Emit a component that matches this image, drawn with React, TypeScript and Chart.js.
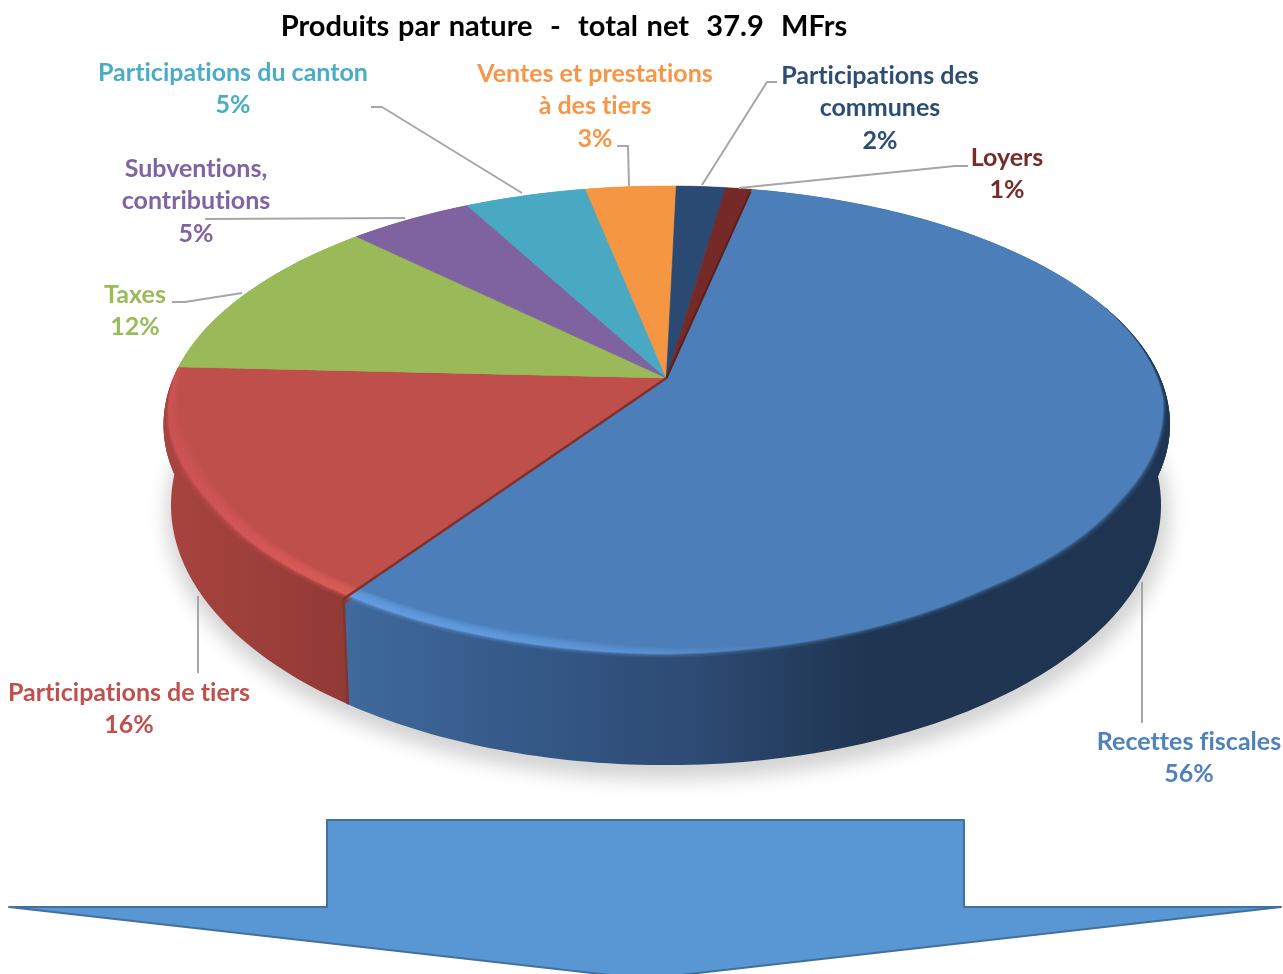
import React, { useEffect, useRef } from "react";
import { Chart, registerables } from "chart.js";

Chart.register(...registerables);

const categories = [
  "Recettes fiscales",
  "Participations de tiers",
  "Taxes",
  "Subventions, contributions",
  "Participations du canton",
  "Ventes et prestations à des tiers",
  "Participations des communes",
  "Loyers",
];
const shares = [56.2, 16.3, 11.6, 4.8, 4.7, 3.5, 1.9, 1.0];
const sliceColors = ["#4c7fba", "#be4f4b", "#9ab958", "#7f62a0", "#49a9c3", "#f49642", "#2a4a73", "#752a28"];
const titleText = "Produits par nature  -  total net  37.9  MFrs";

const labelColors = ["#4f81bd", "#c0504d", "#9bbb59", "#8064a2", "#4bacc6", "#f79646", "#2c4d75", "#772c2a"];
const labelLines = [
  ["Recettes fiscales", "56%"],
  ["Participations de tiers", "16%"],
  ["Taxes", "12%"],
  ["Subventions,", "contributions", "5%"],
  ["Participations du canton", "5%"],
  ["Ventes et prestations", "à des tiers", "3%"],
  ["Participations des", "communes", "2%"],
  ["Loyers", "1%"],
];
const labelAnchors = [
  [1189, [742, 774]],
  [129, [693, 725]],
  [135, [295, 327]],
  [196, [169, 201, 234]],
  [233, [73, 105]],
  [595, [74, 106, 139]],
  [880, [76, 108, 141]],
  [1007, [158, 190]],
] as [number, number[]][];
const leaders = [
  [[1142, 582], [1142, 723]],
  [[198, 596], [198, 673]],
  [[172, 302], [185, 302], [242, 293]],
  [[205, 219], [405, 218]],
  [[371, 107], [382, 107], [522, 193]],
  [[617, 146], [628, 146], [629, 186]],
  [[777, 82], [767, 82], [702, 185]],
  [[968, 166], [955, 166], [739, 188]],
];
const arrowPoints = [
  [327, 820], [964, 820], [964, 907], [1281, 907], [645, 979], [9, 907], [327, 907],
];

const TILT = 0.19;
const topDisc = { cx: 666.5, y0: 378, S: 493, T: 228.5 };
const baseDisc = { cx: 666, y0: 455.6, S: 486, T: 250.7 };
const RAD = Math.PI / 180;
const WALL_SKEW = 0.7 * RAD;

type Disc = typeof topDisc;
const project = (H: Disc, r: number, th: number) => {
  const u = r * Math.sin(th);
  const v = -r * Math.cos(th);
  const w = 1 - TILT * v;
  return [H.cx + (H.S * u) / w, H.y0 + (H.T * v) / w];
};

const wallStops: Record<number, [number, string][]> = {
  0: [[345, "#3f6a9b"], [500, "#365b8b"], [700, "#2d4a72"], [870, "#1f3551"], [1165, "#1e3450"]],
  1: [[165, "#a8443f"], [345, "#923a36"]],
};
const rimLight: Record<number, [number, string, number][]> = {
  0: [[345, "#66a0e6", 0.95], [520, "#66a0e6", 0.85], [760, "#66a0e6", 0.2], [900, "#66a0e6", 0]],
  1: [[165, "#d8585a", 0.5], [230, "#d8585a", 0.85], [345, "#dc5c58", 1]],
};
// how far the wall colour climbs over the top face, by rim angle in degrees
const rimDepthTable = [
  [95, 0], [120, 0.022], [145, 0.03], [165, 0.015], [180, 0.006], [214, 0.014], [240, 0.015], [258, 0.004], [270, 0],
];

const rgba = (hex: string, a: number) => {
  const n = parseInt(hex.slice(1), 16);
  return `rgba(${(n >> 16) & 255},${(n >> 8) & 255},${n & 255},${a})`;
};

function hGradient(ctx: CanvasRenderingContext2D, stops: [number, string, number][]) {
  const x0 = 160;
  const x1 = 1175;
  const g = ctx.createLinearGradient(x0, 0, x1, 0);
  stops.forEach(([x, c, a]) => g.addColorStop((x - x0) / (x1 - x0), rgba(c, a)));
  return g;
}

function band(
  ctx: CanvasRenderingContext2D,
  a0: number,
  a1: number,
  inner: (th: number) => number,
  outer: (th: number) => number = () => 1,
) {
  ctx.beginPath();
  const n = Math.max(2, Math.ceil((a1 - a0) / (0.5 * RAD)));
  for (let i = 0; i <= n; i++) {
    const th = a0 + ((a1 - a0) * i) / n;
    const [x, y] = project(topDisc, outer(th), th);
    i ? ctx.lineTo(x, y) : ctx.moveTo(x, y);
  }
  for (let i = n; i >= 0; i--) {
    const th = a0 + ((a1 - a0) * i) / n;
    const [x, y] = project(topDisc, inner(th), th);
    ctx.lineTo(x, y);
  }
  ctx.closePath();
  ctx.fill();
}

const clamp01 = (x: number) => Math.max(0, Math.min(1, x));

const rimDepth = (th: number) => {
  const deg = th / RAD;
  for (let i = 1; i < rimDepthTable.length; i++) {
    const [a, p] = rimDepthTable[i - 1];
    const [b, q] = rimDepthTable[i];
    if (deg >= a && deg <= b) return p + ((q - p) * (deg - a)) / (b - a);
  }
  return 0;
};

const discPlugin = {
  id: "tiltedDisc",
  beforeDatasetsDraw(chart: any) {
    const ctx: CanvasRenderingContext2D = chart.ctx;
    const arcs = chart.getDatasetMeta(0).data;

    // soft cast shadow
    ctx.save();
    ctx.filter = "blur(9px)";
    ctx.fillStyle = "rgba(0,0,0,0.17)";
    ctx.beginPath();
    ctx.ellipse(668, 514, 502, 266, 0, 0, Math.PI * 2);
    ctx.fill();
    ctx.restore();

    // side wall: ruled surface between the two projected rims
    arcs.forEach((arc: any, idx: number) => {
      const a0 = arc.startAngle + Math.PI / 2 - WALL_SKEW;
      const a1 = arc.endAngle + Math.PI / 2 - WALL_SKEW;
      const n = Math.max(2, Math.ceil((a1 - a0) / RAD));
      ctx.beginPath();
      for (let i = 0; i <= n; i++) {
        const [x, y] = project(topDisc, 1, a0 + ((a1 - a0) * i) / n);
        i ? ctx.lineTo(x, y) : ctx.moveTo(x, y);
      }
      for (let i = n; i >= 0; i--) {
        const [x, y] = project(baseDisc, 1, a0 + ((a1 - a0) * i) / n);
        ctx.lineTo(x, y);
      }
      ctx.closePath();
      const st = wallStops[idx];
      ctx.fillStyle = st ? hGradient(ctx, st.map(([x, c]) => [x, c, 1])) : sliceColors[idx];
      ctx.fill();
    });

    // top face: library arcs, one pixel row at a time through the tilt
    const R = arcs[0].outerRadius;
    const sx0 = arcs[0].x;
    const sy0 = arcs[0].y;
    const { cx, y0, S, T } = topDisc;
    for (let row = 180; row <= 668; row++) {
      const d = row + 0.5 - y0;
      const v = d / (T + TILT * d);
      if (Math.abs(v) > 1.02) continue;
      const w = 1 - TILT * v;
      const sx = S / w / R;
      const sy = (T + TILT * d) ** 2 / T / R;
      ctx.save();
      ctx.beginPath();
      ctx.rect(0, row, chart.width, 1);
      ctx.clip();
      ctx.transform(sx, 0, 0, sy, cx - sx0 * sx, row + 0.5 - (sy0 + v * R) * sy);
      arcs.forEach((arc: any) => arc.draw(ctx));
      ctx.restore();
    }

    // bevel along the front rim
    [0, 1].forEach((idx) => {
      const arc = arcs[idx];
      const a0 = arc.startAngle + Math.PI / 2;
      const a1 = arc.endAngle + Math.PI / 2;
      const lightFade = (th: number) =>
        clamp01((th - 150 * RAD) / (40 * RAD)) * clamp01((280 * RAD - th) / (30 * RAD));
      const N = 12;
      const lightStops = rimLight[idx].map(
        ([x, c, a]) => [x, c, 1 - Math.pow(1 - a * 0.95, 1 / N)] as [number, string, number],
      );
      ctx.fillStyle = hGradient(ctx, lightStops);
      for (let i = 0; i < N; i++) {
        const depth = 0.04 - (i / N) * 0.028;
        band(ctx, Math.max(a0, 150 * RAD), Math.min(a1, 280 * RAD), (th) => 1 - rimDepth(th) - depth * lightFade(th));
      }
      const A0 = Math.max(a0 - WALL_SKEW, 70 * RAD);
      const A1 = Math.min(a1 - WALL_SKEW, 270 * RAD);
      const ends = (th: number) =>
        clamp01((th - 70 * RAD) / (50 * RAD)) * clamp01((270 * RAD - th) / (30 * RAD));
      const outer = (th: number) => 1 + 0.004 * ends(th);
      const M = 10;
      ctx.fillStyle = hGradient(ctx, wallStops[idx].map(([x, c]) => [x, c, 0.22]));
      for (let i = 0; i < M; i++) {
        const ramp = 0.012 * (1 - i / M);
        band(ctx, A0, A1, (th) => 1 - rimDepth(th) - ramp * ends(th), outer);
      }
      ctx.fillStyle = hGradient(ctx, wallStops[idx].map(([x, c]) => [x, c, 1]));
      band(ctx, A0, A1, (th) => 1 - rimDepth(th), outer);
    });

    // edge between red and blue wall
    {
      const th = arcs[1].startAngle + Math.PI / 2;
      const p = project(topDisc, 0.985, th);
      const q = project(topDisc, 1, th - WALL_SKEW);
      const s = project(baseDisc, 1, th - WALL_SKEW);
      ctx.strokeStyle = "#843330";
      ctx.lineWidth = 2.5;
      ctx.beginPath();
      ctx.moveTo(p[0], p[1]);
      ctx.lineTo(q[0], q[1]);
      ctx.lineTo(s[0], s[1]);
      ctx.stroke();
    }

    // dark seams on the top face
    ([[1, "#7f302d", 2.5], [7, "#5a1f1e", 2]] as [number, string, number][]).forEach(([idx, c, lw]) => {
      const th = idx === 1 ? arcs[1].startAngle + Math.PI / 2 : arcs[7].endAngle + Math.PI / 2;
      const p = project(topDisc, 0, th);
      const q = project(topDisc, 0.985, th);
      ctx.strokeStyle = c;
      ctx.lineWidth = lw;
      ctx.beginPath();
      ctx.moveTo(p[0], p[1]);
      ctx.lineTo(q[0], q[1]);
      ctx.stroke();
    });
    return false;
  },
  afterDraw(chart: any) {
    const ctx: any = chart.ctx;
    ctx.save();
    // leader lines
    ctx.strokeStyle = "#a6a6a6";
    ctx.lineWidth = 2;
    ctx.lineJoin = "round";
    leaders.forEach((pts) => {
      ctx.beginPath();
      pts.forEach(([x, y], i) => (i ? ctx.lineTo(x, y) : ctx.moveTo(x, y)));
      ctx.stroke();
    });
    // texts
    ctx.textAlign = "center";
    ctx.textBaseline = "middle";
    ctx.letterSpacing = "0.01px";
    ctx.font = "bold 25px Lato";
    labelLines.forEach((lines, i) => {
      ctx.fillStyle = labelColors[i];
      const [x, ys] = labelAnchors[i];
      lines.forEach((t, j) => ctx.fillText(t, x, ys[j]));
    });
    ctx.fillStyle = "#000000";
    ctx.font = "bold 29px Lato";
    ctx.wordSpacing = "1.6px";
    ctx.fillText(titleText, 564, 27);
    ctx.wordSpacing = "0px";
    // arrow
    ctx.beginPath();
    arrowPoints.forEach(([x, y], i) => (i ? ctx.lineTo(x, y) : ctx.moveTo(x, y)));
    ctx.closePath();
    ctx.fillStyle = "#5897d4";
    ctx.fill();
    ctx.strokeStyle = "#41719c";
    ctx.lineWidth = 2;
    ctx.stroke();
    ctx.restore();
  },
};

export default function App() {
  const ref = useRef<HTMLCanvasElement>(null);
  useEffect(() => {
    const chart = new Chart(ref.current as HTMLCanvasElement, {
      type: "pie",
      data: {
        labels: categories,
        datasets: [
          {
            data: shares,
            backgroundColor: sliceColors,
            borderColor: sliceColors,
            borderWidth: 1,
          },
        ],
      },
      options: {
        responsive: false,
        animation: false,
        rotation: 11.8,
        events: [],
        layout: { padding: 0 },
        plugins: { legend: { display: false }, tooltip: { enabled: false }, title: { display: false } },
      },
      plugins: [discPlugin],
    } as any);
    return () => chart.destroy();
  }, []);
  return (
    <canvas
      ref={ref}
      width={1283}
      height={974}
      style={{
        position: "fixed",
        left: 0,
        top: 0,
        width: 1283,
        height: 974,
        display: "block",
        background: "#fff",
        filter: "blur(0.5px)",
      }}
    />
  );
}
